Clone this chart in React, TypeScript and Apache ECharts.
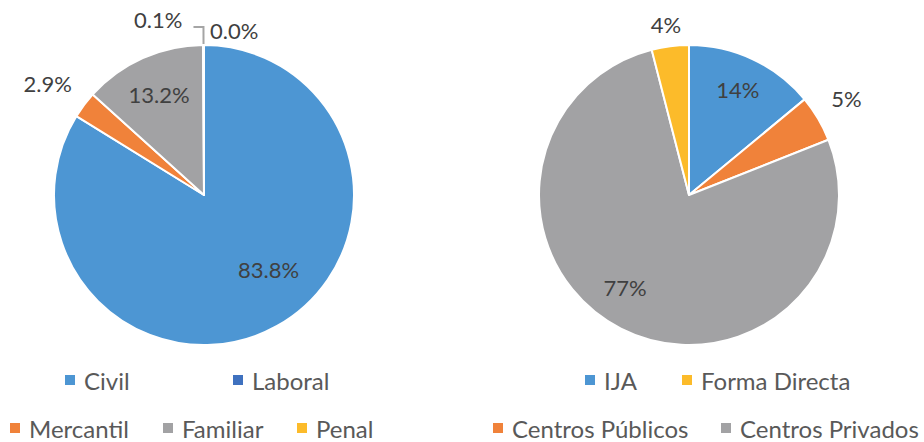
import React, { useEffect, useRef } from 'react';
import * as echarts from 'echarts';

// ---- Data ----
// Left pie (clockwise from 12 o'clock)
const leftNames = ['Laboral', 'Civil', 'Mercantil', 'Familiar', 'Penal'];
const leftValues = [0.0, 83.8, 2.9, 13.2, 0.1];
const leftLegendRow1 = ['Civil', 'Laboral'];
const leftLegendRow2 = ['Mercantil', 'Familiar', 'Penal'];

// Right pie (clockwise from 12 o'clock)
const rightNames = ['IJA', 'Centros Públicos', 'Centros Privados', 'Forma Directa'];
const rightValues = [14, 5, 77, 4];
const rightLegendRow1 = ['IJA', 'Forma Directa'];
const rightLegendRow2 = ['Centros Públicos', 'Centros Privados'];

// ---- Styles ----
const COLORS: Record<string, string> = {
  Civil: '#4D96D3',
  Laboral: '#3F71BF',
  Mercantil: '#F0823A',
  Familiar: '#A2A2A4',
  Penal: '#FCBB2A',
  IJA: '#4D96D3',
  'Centros Públicos': '#F0823A',
  'Centros Privados': '#A2A2A4',
  'Forma Directa': '#FCBB2A',
};

// label placement: 'in' (inner ring), 'out' (outer ring), 'lead' (outside w/ leader), 'none'
const leftPlacement = ['none', 'in', 'out', 'in', 'lead'];
const leftNudge = [[0, 0], [11, -22], [-10, -2], [0, 0], [-6, -8]];
const leftLeadLine = [null, null, null, null, { show: true, length: 18, length2: 10 }];
const rightPlacement = ['in', 'out', 'in', 'out'];
const rightNudge = [[2, -6], [0, -3], [-14, -6], [0, 11]];
const rightLeadLine = [null, null, null, null];

// legend item positions (icon left x, icon top y)
const legendPos: Record<string, [number, number]> = {
  Civil: [65, 377],
  Laboral: [233, 377],
  Mercantil: [10, 425],
  Familiar: [163, 425],
  Penal: [297, 425],
  IJA: [585, 377],
  'Forma Directa': [682, 377],
  'Centros Públicos': [493, 425],
  'Centros Privados': [721, 425],
};

const FONT = 'Lato, "Open Sans", sans-serif';
const LABEL_COLOR = '#404040';
const LEGEND_COLOR = '#595959';
const R = 150;
const LEFT_CENTER: [number, number] = [204, 195];
const RIGHT_CENTER: [number, number] = [689, 195];

function buildSeries(
  names: string[],
  values: number[],
  placement: string[],
  nudge: number[][],
  leads: any[],
  center: [number, number],
  decimals: number
) {
  const fmt = (v: number) => v.toFixed(decimals) + '%';
  const baseLabel = {
    fontFamily: FONT,
    fontSize: 22,
    color: LABEL_COLOR,
  };
  const labelLayout = (p: any) => {
    const d = nudge[p.dataIndex] || [0, 0];
    const out: any = { dx: d[0], dy: d[1] };
    if (p.labelLinePoints) out.labelLinePoints = p.labelLinePoints;
    return out;
  };
  const visual = {
    type: 'pie',
    center,
    radius: [0, R],
    startAngle: 90,
    clockwise: true,
    avoidLabelOverlap: false,
    silent: true,
    itemStyle: { borderColor: '#ffffff', borderWidth: 2 },
    emphasis: { disabled: true },
    labelLayout,
    data: names.map((n, i) => {
      const lead = leads[i];
      return {
        name: n,
        value: values[i],
        itemStyle: { color: COLORS[n] },
        label:
          placement[i] === 'lead'
            ? {
                show: true,
                position: 'outside',
                formatter: () => fmt(values[i]),
                distanceToLabelLine: 5,
                ...baseLabel,
              }
            : { show: false },
        labelLine: lead
          ? {
              show: lead.show,
              length: lead.length,
              length2: lead.length2,
              smooth: false,
              lineStyle: { color: '#A5A5A5', width: 2 },
            }
          : { show: false },
      };
    }),
  };
  const ring = (r0: number, r1: number, which: string) => ({
    type: 'pie',
    center,
    radius: [r0, r1],
    startAngle: 90,
    clockwise: true,
    avoidLabelOverlap: false,
    silent: true,
    legendHoverLink: false,
    emphasis: { disabled: true },
    itemStyle: { color: 'rgba(0,0,0,0)', borderWidth: 0 },
    labelLine: { show: false },
    labelLayout,
    data: names.map((n, i) => ({
      name: n,
      value: values[i],
      itemStyle: { color: 'rgba(0,0,0,0)' },
      label:
        placement[i] === which
          ? {
              show: true,
              position: 'inside',
              formatter: () => fmt(values[i]),
              ...baseLabel,
            }
          : { show: false },
    })),
  });
  return [visual, ring(64, R, 'in'), ring(R, 210, 'out')];
}

function buildLegends() {
  const all = [...leftLegendRow1, ...leftLegendRow2, ...rightLegendRow1, ...rightLegendRow2];
  return all.map((n) => ({
    data: [n],
    left: legendPos[n][0],
    top: legendPos[n][1] - 9,
    padding: 0,
    icon: 'rect',
    itemWidth: 10,
    itemHeight: 10,
    itemStyle: { borderWidth: 0 },
    selectedMode: false,
    textStyle: {
      fontFamily: FONT,
      fontSize: 24,
      color: LEGEND_COLOR,
      lineHeight: 10,
      padding: [0, 0, 4, 4],
    },
  }));
}

export default function App() {
  const ref = useRef<HTMLDivElement>(null);
  useEffect(() => {
    document.body.style.margin = '0';
    if (!ref.current) return;
    const chart = echarts.init(ref.current, undefined, { renderer: 'svg' });
    chart.setOption({
      animation: false,
      backgroundColor: '#ffffff',
      legend: buildLegends(),
      graphic: [
        {
          type: 'text',
          left: LEFT_CENTER[0] + 6,
          top: LEFT_CENTER[1] - R - 26,
          silent: true,
          style: {
            text: leftValues[0].toFixed(1) + '%',
            fontFamily: FONT,
            fontSize: 22,
            fill: LABEL_COLOR,
          },
        },
      ],
      series: [
        ...buildSeries(leftNames, leftValues, leftPlacement, leftNudge, leftLeadLine, LEFT_CENTER, 1),
        ...buildSeries(rightNames, rightValues, rightPlacement, rightNudge, rightLeadLine, RIGHT_CENTER, 0),
      ],
    });
    return () => chart.dispose();
  }, []);
  return <div ref={ref} style={{ width: 924, height: 442 }} />;
}
